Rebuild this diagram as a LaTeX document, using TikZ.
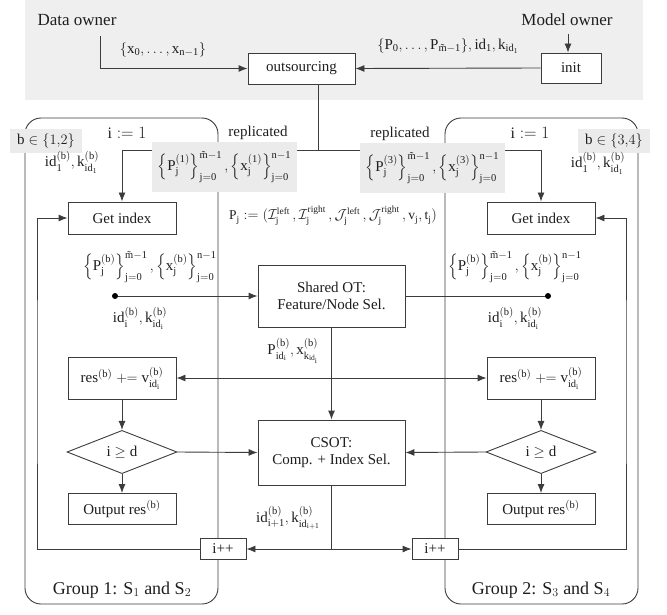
\documentclass[tikz,border=0pt]{standalone}
\usepackage{amsmath}
\usepackage{fontspec}
\setmainfont{Liberation Serif}
\usetikzlibrary{arrows.meta,shapes.geometric}
\pgfdeclarelayer{bg}
\pgfsetlayers{bg,main}
\definecolor{linec}{HTML}{3C3C3C}
\definecolor{txtc}{HTML}{1E1E1E}
\definecolor{topbg}{HTML}{EFEFEF}
\definecolor{tagbg}{HTML}{EBEBEB}
% m with a tilde, set as text so it stays upright
\newcommand{\mt}{\text{m\symbol{"0303}}}
\tikzset{
  fnt/.style={font=\fontsize{15}{17}\selectfont},
  box/.style={draw=linec, line width=0.9pt, fill=white, text=txtc, fnt,
    align=center, inner sep=0pt},
  cond/.style={diamond, draw=linec, line width=0.9pt, fill=white, text=txtc,
    fnt, inner sep=0pt, minimum width=110pt, minimum height=34pt},
  lbl/.style={text=txtc, fnt, inner sep=1pt, align=center},
  tag/.style={fill=tagbg, text=txtc, fnt, inner sep=0pt},
  ln/.style={draw=linec, line width=0.9pt},
  arr/.style={ln, -{Latex[length=9pt,width=7pt]}},
  darr/.style={ln, {Latex[length=9pt,width=7pt]}-{Latex[length=9pt,width=7pt]}},
  dot/.style={circle, fill=black, inner sep=0pt, minimum size=6pt},
  grp/.style={ln, rounded corners=16pt},
}
\begin{document}
\begin{tikzpicture}[x=1pt,y=-1pt]
\useasboundingbox (0,0) rectangle (667,615);

% owners and outsourcing
\node[lbl, font=\fontsize{17}{19}\selectfont] (downer) at (77,20) {Data owner};
\node[lbl, font=\fontsize{17}{19}\selectfont] (mowner) at (567,20) {Model owner};
\node[box, minimum width=107pt, minimum height=31pt] (outs) at (301.5,68.5) {outsourcing};
\node[box, minimum width=60pt, minimum height=30pt] (init) at (571,68) {init};
\coordinate (do) at (100,36);
\coordinate (mo) at (568,34);
\node[lbl] (xin) at (163,50) {$\mathrm{\{x_0,\dots,x_{n-1}\}}$};
\node[lbl] (pin) at (448,46) {$\mathrm{\{P_0,\dots,P_{\mt-1}\},id_1,k_{id_1}}$};

% replicated shares
\node[lbl] (rep1) at (258,133) {replicated};
\node[lbl] (rep2) at (400,134) {replicated};
\node[tag, minimum width=145pt, minimum height=50pt] (sh1) at (224.5,167)
  {$\mathrm{\left\{P_j^{(1)}\right\}_{j=0}^{\mt-1},\left\{x_j^{(1)}\right\}_{j=0}^{n-1}}$};
\node[tag, minimum width=145pt, minimum height=50pt] (sh3) at (432.5,168)
  {$\mathrm{\left\{P_j^{(3)}\right\}_{j=0}^{\mt-1},\left\{x_j^{(3)}\right\}_{j=0}^{n-1}}$};
\coordinate (split) at (318,150);

% group tags
\node[tag, minimum width=72pt, minimum height=24pt] (b12) at (46,141) {$\mathrm{b}\in\{1{,}2\}$};
\node[tag, minimum width=72pt, minimum height=24pt] (b34) at (614,141) {$\mathrm{b}\in\{3{,}4\}$};
\node[lbl, font=\fontsize{16}{18}\selectfont] (ini1) at (127,133) {$\mathrm{i}\mathrel{:=}1$};
\node[lbl, font=\fontsize{16}{18}\selectfont] (ini2) at (530,133) {$\mathrm{i}\mathrel{:=}1$};
\node[lbl] (idk1) at (72,162) {$\mathrm{id_1^{(b)},k_{id_1}^{(b)}}$};
\node[lbl] (idk2) at (598,163) {$\mathrm{id_1^{(b)},k_{id_1}^{(b)}}$};

% get index
\node[box, minimum width=108pt, minimum height=32pt] (gi1) at (122,218) {Get index};
\node[box, minimum width=108pt, minimum height=32pt] (gi2) at (541,218) {Get index};
\node[lbl, font=\fontsize{13.5}{16}\selectfont] (pdef) at (333,216)
  {$\mathrm{P_j\mathrel{:=}(\mathcal{I}_j^{left}\,,\mathcal{I}_j^{right}\,,\mathcal{J}_j^{left}\,,\mathcal{J}_j^{right}\,,v_j,t_j)}$};

% shared OT
\node[box, minimum width=147pt, minimum height=62pt] (sot) at (331.5,296) {Shared OT:\\Feature/Node Sel.};
\node[dot] (dot1) at (115,296) {};
\node[dot] (dot2) at (548,296) {};
\node[lbl] (pl) at (150,267) {$\mathrm{\left\{P_j^{(b)}\right\}_{j=0}^{\mt-1},\left\{x_j^{(b)}\right\}_{j=0}^{n-1}}$};
\node[lbl] (pr) at (515,267) {$\mathrm{\left\{P_j^{(b)}\right\}_{j=0}^{\mt-1},\left\{x_j^{(b)}\right\}_{j=0}^{n-1}}$};
\node[lbl] (idl) at (140,318) {$\mathrm{id_i^{(b)},k_{id_i}^{(b)}}$};
\node[lbl] (idr) at (515,318) {$\mathrm{id_i^{(b)},k_{id_i}^{(b)}}$};
\node[lbl] (sel) at (293,351) {$\mathrm{P_{id_i}^{(b)},x_{k_{id_i}}^{(b)}}$};

% accumulation, test, output
\node[box, minimum width=108pt, minimum height=42pt] (res1) at (122,378) {$\mathrm{res}^{(\mathrm{b})}\mathrel{+\!\!=}\mathrm{v}^{(\mathrm{b})}_{\mathrm{id_i}}$};
\node[box, minimum width=108pt, minimum height=42pt] (res2) at (541,378) {$\mathrm{res}^{(\mathrm{b})}\mathrel{+\!\!=}\mathrm{v}^{(\mathrm{b})}_{\mathrm{id_i}}$};
\node[cond] (cd1) at (122,452) {$\mathrm{i}\geq\mathrm{d}$};
\node[cond] (cd2) at (541,452) {$\mathrm{i}\geq\mathrm{d}$};
\node[box, minimum width=147pt, minimum height=65pt] (csot) at (331.5,452.5) {CSOT:\\Comp. + Index Sel.};
\node[box, minimum width=108pt, minimum height=31pt] (out1) at (122,509) {Output res$^{(\mathrm{b})}$};
\node[box, minimum width=108pt, minimum height=31pt] (out2) at (541,509) {Output res$^{(\mathrm{b})}$};
\node[lbl] (nxt) at (288,518) {$\mathrm{id_{i+1}^{(b)},k_{id_{i+1}}^{(b)}}$};

% increments
\node[box, minimum width=46pt, minimum height=21pt] (inc1) at (223,549) {i++};
\node[box, minimum width=46pt, minimum height=21pt] (inc2) at (435,549) {i++};
\coordinate (cb) at (331.5,549);
\coordinate (lp) at (37,380);
\coordinate (rp) at (626,380);

\node[lbl, font=\fontsize{18}{20}\selectfont] (g1) at (122,590) {Group 1: S$_1$ and S$_2$};
\node[lbl, font=\fontsize{18}{20}\selectfont] (g2) at (541,590) {Group 2: S$_3$ and S$_4$};

\begin{pgfonlayer}{bg}
  \fill[topbg] (25,0) rectangle (643,100);
  \draw[grp] (25,118) rectangle (218,604);
  \draw[grp] (445,118) rectangle (638,604);
  \draw[arr] (do) |- (outs.west);
  \draw[arr] (mo) -- (mo |- init.north);
  \draw[arr] (init.west) -- (outs.east);
  \draw[ln] (outs.south -| split) -- (split);
  \draw[arr] (split) -| (gi1.north);
  \draw[arr] (split) -| (gi2.north);
  \draw[arr] (dot1.center) -- (sot.west);
  \draw[ln] (sot.east) -- (dot2.center);
  \draw[arr] (sot.south) -- (csot.north);
  \draw[darr] (res1.east) -- (res2.west);
  \draw[arr] (res1.south) -- (cd1.north);
  \draw[arr] (res2.south) -- (cd2.north);
  \draw[arr] (cd1.east) -- (csot.west);
  \draw[arr] (cd2.west) -- (csot.east);
  \draw[arr] (cd1.south) -- (out1.north);
  \draw[arr] (cd2.south) -- (out2.north);
  \draw[ln] (csot.south) -- (cb);
  \draw[arr] (cb) -- (inc1.east);
  \draw[arr] (cb) -- (inc2.west);
  \draw[arr] (inc1.west) -| (lp) |- (gi1.west);
  \draw[arr] (inc2.east) -| (rp) |- (gi2.east);
\end{pgfonlayer}
\end{tikzpicture}
\end{document}
